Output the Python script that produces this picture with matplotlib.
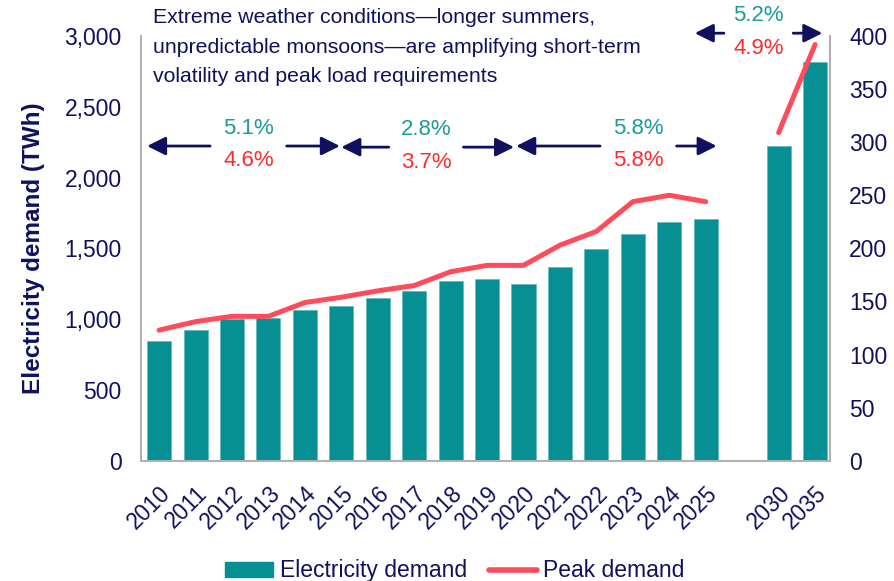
import numpy as np
import matplotlib
matplotlib.use("Agg")
import matplotlib.pyplot as plt
from matplotlib.patches import Patch
from matplotlib.lines import Line2D

plt.rcParams['font.family'] = ['Liberation Sans', 'DejaVu Sans']

years = ["2010", "2011", "2012", "2013", "2014", "2015", "2016", "2017", "2018",
         "2019", "2020", "2021", "2022", "2023", "2024", "2025", "2030", "2035"]
xpos = [0, 1, 2, 3, 4, 5, 6, 7, 8, 9, 10, 11, 12, 13, 14, 15, 17, 18]
demand = [847, 925, 1002, 1009, 1066, 1094, 1150, 1200, 1270, 1284, 1249,
          1369, 1496, 1602, 1687, 1708, 2223, 2816]
peak = [123, 131, 136, 136, 149, 154, 160, 165, 178, 184, 184,
        203, 216, 244, 250, 244, 309, 392]

# CAGR labels: (start, end, demand cagr, peak cagr)
periods = [(-0.33, 4.96, "5.1%", "4.6%"),
           (5.0, 9.74, "2.8%", "3.7%"),
           (9.8, 15.3, "5.8%", "5.8%"),
           (14.7, 18.2, "5.2%", "4.9%")]
gaps = [(1.4, 3.5), (6.3, 8.35), (12.1, 14.2), (15.5, 17.4)]
arrow_y = [2223, 2215, 2223, 3020]

navy = '#10105f'
teal = '#079093'
red = '#ff4b5c'
teal_txt = '#1c9b9b'
red_txt = '#ff2b2b'

fig = plt.figure(figsize=(8.94, 5.81), dpi=100)
ax = fig.add_axes([0.158, 0.207, 0.77, 0.731])
ax2 = ax.twinx()

ax.bar(xpos, demand, width=0.66, color=teal, edgecolor='#5fb8ba', linewidth=0.5, zorder=2)
ax2.plot(xpos[:16], peak[:16], color=red, lw=3.6, solid_capstyle='round', zorder=3)
ax2.plot(xpos[16:], peak[16:], color=red, lw=3.6, solid_capstyle='round', zorder=3)

ax.set_xlim(-0.49, 18.4)
ax.set_ylim(0, 3000)
ax2.set_ylim(0, 400)
ax.set_yticks(np.arange(0, 3001, 500))
ax.set_yticklabels(["{:,}".format(v) for v in range(0, 3001, 500)])
ax2.set_yticks(np.arange(0, 401, 50))
ax.set_xticks(xpos)
ax.set_xticklabels(years, rotation=45, ha='right', rotation_mode='anchor')

for a in (ax, ax2):
    a.tick_params(length=0, labelsize=16.5, colors=navy, pad=14)
    for s in a.spines.values():
        s.set_color('#b0b0b0')
        s.set_linewidth(1.3)
    a.spines['top'].set_visible(False)
ax.tick_params(axis='x', pad=15, labelsize=16.3)
ax.set_ylabel("Electricity demand (TWh)", fontsize=17.5, fontweight='bold', color=navy, labelpad=14)

ax2.set_zorder(ax.get_zorder() + 1)
ax2.patch.set_visible(False)

for (x0, x1, t1, t2), (g0, g1), yy in zip(periods, gaps, arrow_y):
    ap = dict(arrowstyle='-|>', color=navy, lw=2, mutation_scale=28, shrinkA=0, shrinkB=0)
    ax.annotate("", xy=(x0, yy), xytext=(g0, yy), arrowprops=ap, annotation_clip=False)
    ax.annotate("", xy=(x1, yy), xytext=(g1, yy), arrowprops=ap, annotation_clip=False)
    xc = (g0 + g1) / 2
    ax.text(xc, yy + 125, t1, color=teal_txt, fontsize=16, ha='center', va='center', clip_on=False)
    ax.text(xc, yy - 105, t2, color=red_txt, fontsize=16, ha='center', va='center', clip_on=False)

fig.text(0.171, 0.986,
         "Extreme weather conditions\u2014longer summers,\n"
         "unpredictable monsoons\u2014are amplifying short-term\n"
         "volatility and peak load requirements",
         fontsize=15.3, color=navy, ha='left', va='top', linespacing=1.7)

handles = [Patch(color=teal, label="Electricity demand"),
           Line2D([0], [0], color=red, lw=4, solid_capstyle='round', label="Peak demand")]
fig.legend(handles=handles, loc='lower center', bbox_to_anchor=(0.509, -0.038), ncol=2,
           frameon=False, fontsize=16.5, labelcolor=navy, handlelength=2.1, handleheight=0.6,
           columnspacing=0.95, handletextpad=0.28)

fig.savefig("out.png", dpi=100)
